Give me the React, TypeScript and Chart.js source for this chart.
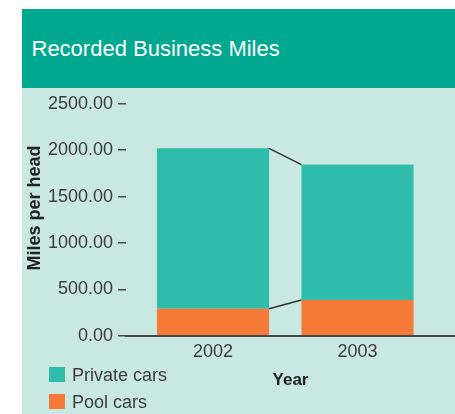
import React, { useEffect, useRef } from "react";
import { Chart, registerables } from "chart.js";

Chart.register(...registerables);

const title = "Recorded Business Miles";
const yAxisTitle = "Miles per head";
const xAxisTitle = "Year";
const years = [2002, 2003];
const seriesNames = ["Private cars", "Pool cars"];
const privateCars = [1730, 1460];
const poolCars = [290, 385];
const yMax = 2500;
const yStep = 500;

const COLORS = {
  header: "#00a88f",
  panel: "#c8e8e1",
  private: "#30bdac",
  pool: "#f57a37",
  text: "#3c3c3c",
  axis: "#4a4a4a",
};
const FONT = "'Liberation Sans', Arial, Helvetica, sans-serif";

const connectorPlugin = {
  id: "connectors",
  afterDatasetsDraw(chart: any) {
    const ctx = chart.ctx;
    ctx.save();
    ctx.strokeStyle = "#333333";
    ctx.lineWidth = 1.5;
    chart.data.datasets.forEach((_ds: any, di: number) => {
      const meta = chart.getDatasetMeta(di);
      for (let i = 0; i < meta.data.length - 1; i++) {
        const a: any = meta.data[i];
        const b: any = meta.data[i + 1];
        ctx.beginPath();
        ctx.moveTo(a.x + a.width / 2, a.y);
        ctx.lineTo(b.x - b.width / 2, b.y);
        ctx.stroke();
      }
    });
    ctx.restore();
  },
};

export default function App() {
  const canvasRef = useRef<HTMLCanvasElement | null>(null);

  useEffect(() => {
    if (!canvasRef.current) return;
    Chart.defaults.font.family = FONT;
    const chart = new Chart(canvasRef.current, {
      type: "bar",
      data: {
        datasets: [
          {
            label: seriesNames[1],
            data: years.map((y, i) => ({ x: y, y: poolCars[i] })),
            backgroundColor: COLORS.pool,
            stack: "s",
            barPercentage: 0.97,
            categoryPercentage: 0.8,
          },
          {
            label: seriesNames[0],
            data: years.map((y, i) => ({ x: y, y: privateCars[i] })),
            backgroundColor: COLORS.private,
            stack: "s",
            barPercentage: 0.97,
            categoryPercentage: 0.8,
          },
        ],
      },
      options: {
        responsive: false,
        animation: false,
        layout: { padding: { top: 12.3, left: 0, right: 0, bottom: 0 } },
        plugins: {
          legend: { display: false },
          tooltip: { enabled: false },
          title: { display: false },
        },
        scales: {
          x: {
            type: "linear",
            offset: false,
            min: 2001.398,
            max: 2003.675,
            grid: { display: false, drawTicks: false, offset: false },
            border: { display: true, color: COLORS.axis, width: 2 },
            ticks: {
              stepSize: 1,
              includeBounds: false,
              padding: 6,
              color: COLORS.text,
              font: { size: 18, family: FONT },
              callback: (v: any) => String(v),
            },
            title: {
              display: true,
              text: xAxisTitle,
              color: "#222222",
              font: { size: 17, weight: "bold", family: FONT },
              padding: { top: 0.5, bottom: 23.8 },
            },
          },
          y: {
            stacked: true,
            min: 0,
            max: yMax,
            afterFit: (scale: any) => {
              scale.width = 104;
            },
            grid: {
              drawOnChartArea: false,
              drawTicks: true,
              tickLength: 8,
              tickColor: COLORS.axis,
              lineWidth: 1.5,
            },
            border: { display: false },
            ticks: {
              stepSize: yStep,
              padding: 5,
              color: COLORS.text,
              font: { size: 18, family: FONT },
              callback: (v: any) => Number(v).toFixed(2),
            },
          },
        },
      } as any,
      plugins: [connectorPlugin],
    });
    return () => chart.destroy();
  }, []);

  const legendItems = [
    { name: seriesNames[0], color: COLORS.private, top: 357.7 },
    { name: seriesNames[1], color: COLORS.pool, top: 385 },
  ];

  return (
    <div
      style={{
        position: "absolute",
        left: 22,
        top: 9,
        width: 433,
        height: 405,
        background: COLORS.panel,
        overflow: "hidden",
        fontFamily: FONT,
      }}
    >
      <div
        style={{
          position: "absolute",
          left: 0,
          top: 0,
          width: 433,
          height: 79,
          background: COLORS.header,
        }}
      >
        <div
          style={{
            position: "absolute",
            left: 9.5,
            top: 29,
            fontSize: 22,
            lineHeight: "22px",
            color: "#ffffff",
            whiteSpace: "nowrap",
          }}
        >
          {title}
        </div>
      </div>
      <canvas
        ref={canvasRef}
        width={433}
        height={326}
        style={{ position: "absolute", left: 0, top: 79, width: 433, height: 326 }}
      />
      <div
        style={{
          position: "absolute",
          left: 12,
          top: 198.5,
          transform: "translate(-50%, -50%) rotate(-90deg)",
          fontSize: 18,
          lineHeight: "20px",
          fontWeight: "bold",
          color: "#222222",
          whiteSpace: "nowrap",
        }}
      >
        {yAxisTitle}
      </div>
      {legendItems.map((it) => (
        <div key={it.name} style={{ position: "absolute", left: 27, top: it.top, height: 15 }}>
          <div
            style={{
              position: "absolute",
              left: 0,
              top: 0,
              width: 16,
              height: 15,
              background: it.color,
            }}
          />
          <div
            style={{
              position: "absolute",
              left: 23,
              top: -0.6,
              fontSize: 18,
              lineHeight: "18px",
              color: COLORS.text,
              whiteSpace: "nowrap",
            }}
          >
            {it.name}
          </div>
        </div>
      ))}
    </div>
  );
}
